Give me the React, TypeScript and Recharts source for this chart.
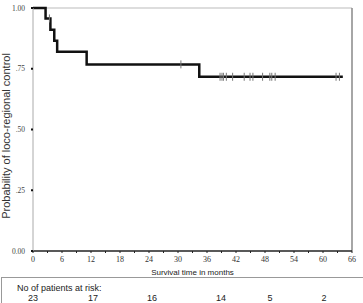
import React from "react";
import {
  ComposedChart, Line, Scatter, XAxis, YAxis, ReferenceLine, Label,
} from "recharts";

// Kaplan-Meier steps (months, probability)
const stepTimes = [0, 2.6, 3.6, 4.4, 5.0, 11.1, 34.4, 64.1];
const stepProb = [1.0, 0.957, 0.911, 0.865, 0.82, 0.768, 0.717, 0.717];

// censored observations (tick marks on the curve)
const censorTimes = [3.4, 30.6, 38.7, 39.1, 39.4, 40.0, 41.3, 43.7, 44.9, 45.5, 47.5, 49.0, 49.4, 50.1, 62.7, 63.4];
const censorProb = [0.957, 0.768, 0.717, 0.717, 0.717, 0.717, 0.717, 0.717, 0.717, 0.717, 0.717, 0.717, 0.717, 0.717, 0.717, 0.717];

const xTicks = [0, 3, 6, 9, 12, 15, 18, 21, 24, 27, 30, 33, 36, 39, 42, 45, 48, 51, 54, 57, 60, 63, 66];
const yTicks = [0, 0.25, 0.5, 0.75, 1];

const atRisk = [23, 17, 16, 14, 5, 2];
const atRiskX = [32, 92, 151, 220, 269, 323];

const curve = stepTimes.map((t, i) => ({ t, p: stepProb[i] }));
const censored = censorTimes.map((t, i) => ({ t, p: censorProb[i] }));

const yFmt = (v: number) => (v === 1 ? "1.00" : v === 0 ? "0.00" : v.toFixed(2).slice(1));
const xFmt = (v: number) => (v % 6 === 0 ? String(v) : "");

const CensorMark = (props: { cx?: number; cy?: number }) => {
  const { cx = 0, cy = 0 } = props;
  return <line x1={cx} x2={cx} y1={cy - 4} y2={cy + 4} stroke="#777" strokeWidth={1} />;
};

const serif = "Liberation Serif";
const sans = "Liberation Sans";

// rotated y title, placed by hand so it sits like the original (slightly below centre)
const YTitle = () => (
  <text
    x={10}
    y={136}
    transform="rotate(-90, 10, 136)"
    textAnchor="middle"
    style={{ fontSize: 11, fontFamily: sans, fill: "#333" }}
  >
    Probability of loco-regional control
  </text>
);

export default function App() {
  return (
    <div style={{ position: "absolute", left: 0, top: 0, width: 363, height: 303, background: "#fff", overflow: "hidden" }}>
      <ComposedChart width={363} height={303} margin={{ top: 8, right: 11, bottom: 28, left: 0 }}>
        <XAxis
          type="number"
          dataKey="t"
          domain={[0, 66]}
          ticks={xTicks}
          tickFormatter={xFmt}
          interval={0}
          height={24}
          axisLine={{ stroke: "#222", strokeWidth: 1.5 }}
          tickLine={{ stroke: "#222" }}
          tickSize={2}
          tickMargin={3}
          tick={{ fontSize: 8, fontFamily: serif, fill: "#333", style: { fontFamily: serif } }}
        >
          <Label value="Survival time in months" position="insideBottom" offset={0} style={{ fontSize: 8, fontFamily: sans, fill: "#222" }} />
        </XAxis>
        <YAxis
          type="number"
          dataKey="p"
          domain={[0, 1]}
          ticks={yTicks}
          tickFormatter={yFmt}
          width={33}
          axisLine={{ stroke: "#aaa", strokeWidth: 1 }}
          tickLine={{ stroke: "#111", strokeWidth: 2 }}
          tickSize={2}
          tickMargin={6}
          tick={{ fontSize: 7.5, fontFamily: serif, fill: "#444", style: { fontFamily: serif } }}
        >
          <Label content={<YTitle />} />
        </YAxis>
        <ReferenceLine y={1} stroke="#bbb" strokeWidth={1} ifOverflow="extendDomain" />
        <ReferenceLine x={66} stroke="#888" strokeWidth={1.5} />
        <Line
          data={curve}
          dataKey="p"
          type="stepAfter"
          stroke="#111"
          strokeWidth={2.5}
          dot={false}
          isAnimationActive={false}
        />
        <Scatter data={censored} dataKey="p" shape={<CensorMark />} isAnimationActive={false} />
      </ComposedChart>
      <div
        style={{
          position: "absolute", left: 1, top: 277, width: 364, height: 30,
          border: "1px solid #999", boxSizing: "border-box", fontFamily: sans, fontSize: 9, color: "#222",
        }}
      >
        <div style={{ position: "absolute", left: 15, top: 5, whiteSpace: "nowrap" }}>No of patients at risk:</div>
        {atRisk.map((n, i) => (
          <div key={i} style={{ position: "absolute", left: atRiskX[i] - 21, width: 40, textAlign: "center", top: 15 }}>
            {n}
          </div>
        ))}
      </div>
    </div>
  );
}
